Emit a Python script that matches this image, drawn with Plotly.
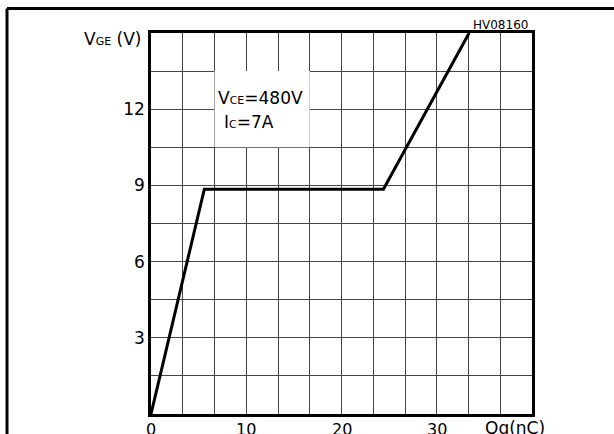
import plotly.graph_objects as go

# Data
qg_nc = [0.0, 5.6, 24.4, 33.4]
vge_v = [0.0, 8.85, 8.85, 15.0]

x_tick_vals = [0, 10, 20, 30]
x_tick_text = ["0", "10", "20", "30"]
y_tick_vals = [3, 6, 9, 12]
y_tick_text = ["3", "6", "9", "12"]

W, H = 614, 434
L, R, T, B = 151, 532, 33, 414  # plot area in px


def px(x):
    return (x - L) / (R - L)


def py(y):
    return (B - y) / (B - T)


FONT = "DejaVu Sans, Verdana, sans-serif"
GRID = "#444"

fig = go.Figure()
fig.add_trace(go.Scatter(x=qg_nc, y=vge_v, mode="lines",
                         line=dict(color="black", width=3),
                         hoverinfo="skip", showlegend=False))

fig.update_layout(
    width=W, height=H, autosize=False,
    margin=dict(l=L, r=W - R, t=T, b=H - B, pad=0, autoexpand=False),
    paper_bgcolor="white", plot_bgcolor="white",
    font=dict(family=FONT, size=17, color="black"),
    showlegend=False,
    xaxis=dict(range=[0, 40], tickvals=x_tick_vals, ticktext=x_tick_text,
               showticklabels=False,
               showgrid=True, gridcolor=GRID, gridwidth=1.3,
               minor=dict(dtick=10 / 3, tick0=0, showgrid=True,
                          gridcolor=GRID, gridwidth=1.3),
               showline=True, mirror=True, linecolor="black", linewidth=2.5,
               ticks="", zeroline=False, fixedrange=True, automargin=False),
    yaxis=dict(range=[0, 15], tickvals=y_tick_vals, ticktext=y_tick_text,
               showgrid=True, gridcolor=GRID, gridwidth=1.3,
               minor=dict(dtick=1.5, tick0=0, showgrid=True,
                          gridcolor=GRID, gridwidth=1.3),
               showline=True, mirror=True, linecolor="black", linewidth=2.5,
               ticks="", zeroline=False, fixedrange=True, automargin=False,
               tickfont=dict(size=17)),
)

# x tick labels placed on the x axis scale, just below the axis
for v, t in zip(x_tick_vals, x_tick_text):
    fig.add_annotation(xref="x", yref="paper", x=v, y=py(418),
                       xanchor="center", yanchor="top", showarrow=False,
                       text=t, font=dict(size=16))

# white box behind the condition text
fig.add_shape(type="rect", xref="x", yref="y",
              x0=20 / 3, x1=50 / 3, y0=10.5, y1=13.5,
              fillcolor="white", line=dict(width=0), layer="between")

# outer frame
fig.add_shape(type="line", xref="paper", yref="paper",
              x0=px(7), x1=px(616), y0=py(8.5), y1=py(8.5),
              line=dict(color="black", width=3))
fig.add_shape(type="line", xref="paper", yref="paper",
              x0=px(7), x1=px(7), y0=py(8.5), y1=py(440),
              line=dict(color="black", width=3))

sub = "<span style='font-size:11px'>{}</span>"

fig.add_annotation(xref="paper", yref="paper", x=px(143), y=py(39),
                   xanchor="right", yanchor="middle", showarrow=False,
                   text="V" + sub.format("GE") + " (V)",
                   font=dict(size=17))
fig.add_annotation(xref="paper", yref="paper", x=px(530), y=py(25),
                   xanchor="right", yanchor="middle", showarrow=False,
                   text="HV08160", font=dict(size=12))
fig.add_annotation(xref="paper", yref="paper", x=px(515), y=py(416),
                   xanchor="center", yanchor="top", showarrow=False,
                   text="Qg(nC)", font=dict(size=17))
fig.add_annotation(xref="paper", yref="paper", x=px(216), y=py(98),
                   xanchor="left", yanchor="middle", showarrow=False,
                   text="V" + sub.format("CE") + "=480V", font=dict(size=17))
fig.add_annotation(xref="paper", yref="paper", x=px(222), y=py(122),
                   xanchor="left", yanchor="middle", showarrow=False,
                   text="I" + sub.format("C") + "=7A", font=dict(size=17))

page_fix = (
    "var s=document.documentElement.style, b=document.body.style;"
    "s.margin='0';s.padding='0';s.overflow='hidden';"
    "b.margin='0';b.padding='0';b.overflow='hidden';"
)

fig.write_html("out.html", config={"displayModeBar": False},
               post_script=page_fix)
